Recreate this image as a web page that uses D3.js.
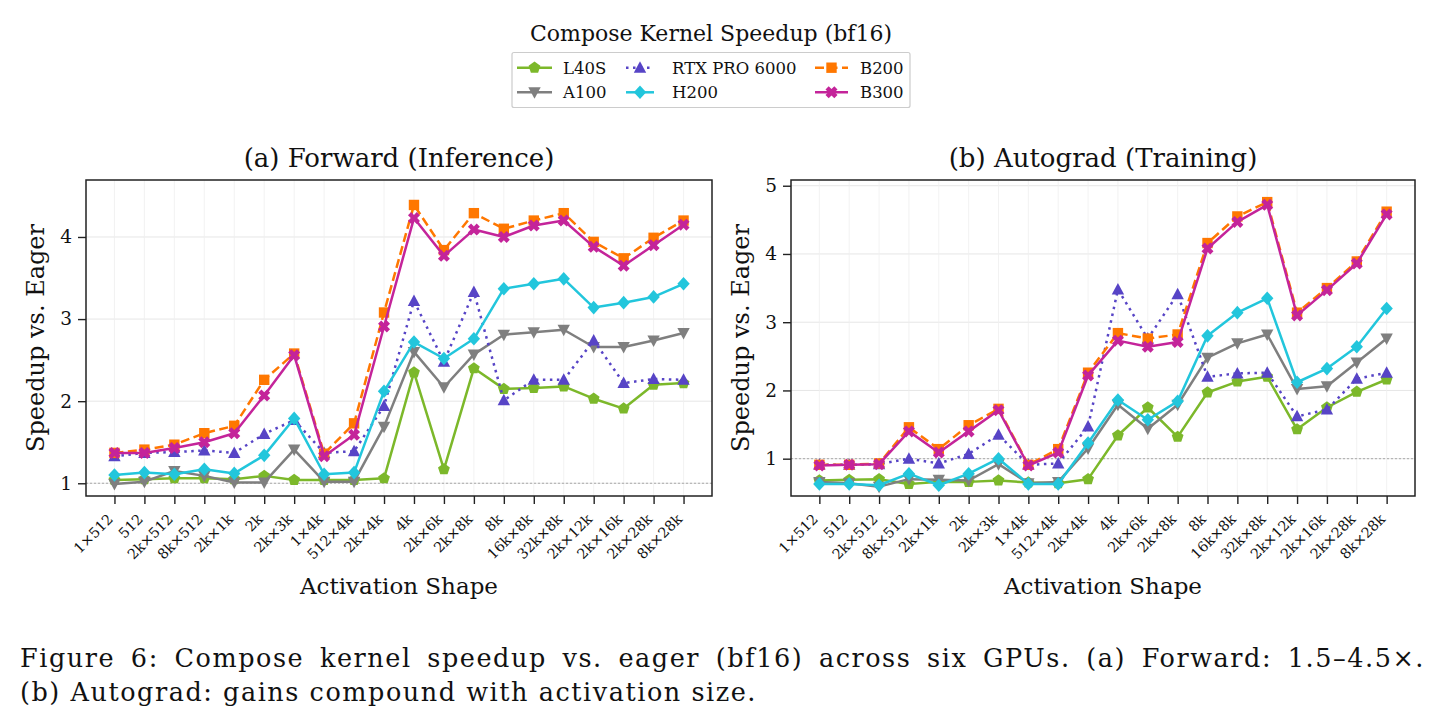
<!DOCTYPE html>
<html>
<head>
<meta charset="utf-8">
<script src="https://cdn.jsdelivr.net/npm/d3@7"></script>
<style>
  body { margin: 0; background: #fff; }
  svg { display: block; }
  text { font-family: "DejaVu Serif", serif; fill: #111; }
</style>
</head>
<body>
<div id="chart"></div>
<script>
// categories (activation shapes)
const shapes = ["1×512", "512", "2k×512", "8k×512", "2k×1k", "2k", "2k×3k", "1×4k", "512×4k", "2k×4k",
  "4k", "2k×6k", "2k×8k", "8k", "16k×8k", "32k×8k", "2k×12k", "2k×16k", "2k×28k", "8k×28k"];

const gpus = ["L40S", "A100", "RTX PRO 6000", "H200", "B200", "B300"];

// (a) forward speedups
const fwdL40S = [1.04, 1.05, 1.06, 1.06, 1.05, 1.09, 1.04, 1.04, 1.04, 1.06, 2.35, 1.17, 2.40, 2.15, 2.16, 2.18, 2.03, 1.91, 2.20, 2.22];
const fwdA100 = [0.99, 1.02, 1.15, 1.09, 1.01, 1.01, 1.41, 1.02, 1.02, 1.69, 2.60, 2.17, 2.57, 2.81, 2.84, 2.87, 2.66, 2.66, 2.74, 2.83];
const fwdRTX  = [1.33, 1.37, 1.38, 1.40, 1.37, 1.60, 1.77, 1.37, 1.39, 1.94, 3.22, 2.48, 3.33, 2.01, 2.26, 2.26, 2.74, 2.22, 2.27, 2.26];
const fwdH200 = [1.10, 1.13, 1.11, 1.17, 1.12, 1.34, 1.79, 1.11, 1.13, 2.12, 2.72, 2.52, 2.76, 3.37, 3.43, 3.49, 3.14, 3.20, 3.27, 3.43];
const fwdB200 = [1.37, 1.41, 1.47, 1.61, 1.70, 2.26, 2.58, 1.36, 1.73, 3.08, 4.39, 3.84, 4.29, 4.10, 4.20, 4.29, 3.94, 3.74, 3.99, 4.20];
const fwdB300 = [1.37, 1.37, 1.43, 1.50, 1.61, 2.07, 2.56, 1.33, 1.59, 2.91, 4.23, 3.77, 4.09, 4.00, 4.14, 4.20, 3.88, 3.65, 3.90, 4.15];

// (b) autograd speedups
const bwdL40S = [0.68, 0.69, 0.70, 0.63, 0.66, 0.66, 0.68, 0.65, 0.64, 0.70, 1.34, 1.75, 1.32, 1.97, 2.13, 2.20, 1.43, 1.75, 1.98, 2.16];
const bwdA100 = [0.66, 0.64, 0.59, 0.70, 0.69, 0.68, 0.92, 0.64, 0.66, 1.15, 1.79, 1.44, 1.79, 2.48, 2.69, 2.82, 2.02, 2.06, 2.41, 2.76];
const bwdRTX  = [0.91, 0.91, 0.92, 1.00, 0.93, 1.07, 1.35, 0.91, 0.93, 1.47, 3.48, 2.76, 3.41, 2.20, 2.25, 2.26, 1.62, 1.72, 2.17, 2.26];
const bwdH200 = [0.63, 0.63, 0.61, 0.78, 0.61, 0.78, 1.00, 0.63, 0.63, 1.23, 1.86, 1.57, 1.84, 2.80, 3.14, 3.35, 2.12, 2.32, 2.64, 3.20];
const bwdB200 = [0.91, 0.91, 0.93, 1.46, 1.14, 1.49, 1.73, 0.91, 1.14, 2.26, 2.84, 2.76, 2.82, 4.16, 4.55, 4.76, 3.14, 3.50, 3.89, 4.62];
const bwdB300 = [0.90, 0.91, 0.92, 1.40, 1.09, 1.40, 1.71, 0.90, 1.09, 2.22, 2.73, 2.64, 2.71, 4.08, 4.47, 4.72, 3.10, 3.47, 3.86, 4.58];

const fwdTicks = [1, 2, 3, 4];
const bwdTicks = [1, 2, 3, 4, 5];

const W = 1445, H = 726;
const svg = d3.select("#chart").append("svg").attr("width", W).attr("height", H);

// series styling
const styles = {
  "L40S":         { color: "#7cb82a", dash: null,  marker: "pentagon" },
  "A100":         { color: "#7f7f7f", dash: null,  marker: "tridown" },
  "RTX PRO 6000": { color: "#5744c6", dash: "2.5,4.5", marker: "triup" },
  "H200":         { color: "#22c6dc", dash: null,  marker: "diamond" },
  "B200":         { color: "#ff7700", dash: "9,4.5", marker: "square" },
  "B300":         { color: "#c4249a", dash: null,  marker: "xcross" }
};

function polyPath(pts) {
  return "M" + pts.map(p => p[0].toFixed(2) + "," + p[1].toFixed(2)).join("L") + "Z";
}
function markerPath(kind) {
  if (kind === "pentagon") {
    const r = 6.2;
    return polyPath(d3.range(5).map(i => {
      const a = -Math.PI / 2 + i * 2 * Math.PI / 5;
      return [r * Math.cos(a), r * Math.sin(a)];
    }));
  }
  if (kind === "tridown") return polyPath([[-6.2, -5], [6.2, -5], [0, 6.5]]);
  if (kind === "triup") return polyPath([[-6.2, 5], [6.2, 5], [0, -6.5]]);
  if (kind === "diamond") return polyPath([[0, -6.8], [6.2, 0], [0, 6.8], [-6.2, 0]]);
  if (kind === "square") return polyPath([[-5.2, -5.2], [5.2, -5.2], [5.2, 5.2], [-5.2, 5.2]]);
  // filled X
  const a = 3.2, b = 6;
  return polyPath([[-b + a, -b], [0, -a], [b - a, -b], [b, -b + a], [a, 0], [b, b - a], [b - a, b],
    [0, a], [-b + a, b], [-b, b - a], [-a, 0], [-b, -b + a]]);
}

function drawPanel(cfg) {
  const { left, right, top, bottom, yDomain, ticks, series, title } = cfg;
  const x = d3.scaleLinear().domain([-0.95, shapes.length - 1 + 0.95]).range([left, right]);
  const y = d3.scaleLinear().domain(yDomain).range([bottom, top]);
  const g = svg.append("g");

  // grid
  g.selectAll(".gy").data(ticks).enter().append("line")
    .attr("x1", left).attr("x2", right)
    .attr("y1", d => y(d)).attr("y2", d => y(d))
    .attr("stroke", "#e6e6e6").attr("stroke-width", 1);
  g.selectAll(".gx").data(shapes).enter().append("line")
    .attr("x1", (d, i) => x(i)).attr("x2", (d, i) => x(i))
    .attr("y1", top).attr("y2", bottom)
    .attr("stroke", "#efefef").attr("stroke-width", 0.8);

  // reference line at 1
  g.append("line")
    .attr("x1", left).attr("x2", right)
    .attr("y1", y(1)).attr("y2", y(1))
    .attr("stroke", "#aaa").attr("stroke-width", 1).attr("stroke-dasharray", "2,2");

  // series
  gpus.forEach((name, k) => {
    const st = styles[name];
    const vals = series[k];
    const line = d3.line().x((d, i) => x(i)).y(d => y(d));
    g.append("path").datum(vals)
      .attr("d", line)
      .attr("fill", "none")
      .attr("stroke", st.color)
      .attr("stroke-width", 2.5)
      .attr("stroke-dasharray", st.dash)
      .attr("stroke-linejoin", "round");
    g.selectAll(null).data(vals).enter().append("path")
      .attr("d", markerPath(st.marker))
      .attr("transform", (d, i) => `translate(${x(i)},${y(d)})`)
      .attr("fill", st.color);
  });

  // frame
  g.append("rect").attr("x", left).attr("y", top)
    .attr("width", right - left).attr("height", bottom - top)
    .attr("fill", "none").attr("stroke", "#222").attr("stroke-width", 1.5);

  // y axis
  const ya = g.append("g").attr("transform", `translate(${left},0)`)
    .call(d3.axisLeft(y).tickValues(ticks).tickSize(8).tickPadding(6).tickFormat(d3.format("d")));
  ya.select(".domain").remove();
  ya.selectAll("line").attr("stroke", "#222").attr("stroke-width", 1.4);
  ya.selectAll("text").attr("font-size", 18.5).attr("font-family", "DejaVu Serif").attr("fill", "#111");

  // x axis
  const xa = g.append("g").attr("transform", `translate(0,${bottom})`)
    .call(d3.axisBottom(x).tickValues(d3.range(shapes.length)).tickSize(8).tickFormat(i => shapes[i]));
  xa.select(".domain").remove();
  xa.selectAll("line").attr("stroke", "#222").attr("stroke-width", 1.4);
  xa.selectAll("text")
    .attr("font-size", 14.3).attr("font-family", "DejaVu Serif").attr("fill", "#111")
    .attr("text-anchor", "end")
    .attr("dy", null).attr("y", 0)
    .attr("transform", "translate(-1,24) rotate(-45)");

  // titles
  const cx = (left + right) / 2;
  g.append("text").attr("x", cx).attr("y", top - 13).attr("text-anchor", "middle")
    .attr("font-size", 26).text(title);
  g.append("text").attr("x", cx).attr("y", 594).attr("text-anchor", "middle")
    .attr("font-size", 23).text("Activation Shape");
  g.append("text").attr("transform", `translate(${left - 42},${(top + bottom) / 2}) rotate(-90)`)
    .attr("text-anchor", "middle").attr("font-size", 24).text("Speedup vs. Eager");
}

drawPanel({
  left: 86, right: 712, top: 180, bottom: 496,
  yDomain: [0.845, 4.694], ticks: fwdTicks,
  series: [fwdL40S, fwdA100, fwdRTX, fwdH200, fwdB200, fwdB300],
  title: "(a) Forward (Inference)"
});
drawPanel({
  left: 791, right: 1415, top: 180, bottom: 496,
  yDomain: [0.453, 5.084], ticks: bwdTicks,
  series: [bwdL40S, bwdA100, bwdRTX, bwdH200, bwdB200, bwdB300],
  title: "(b) Autograd (Training)"
});

// suptitle + legend
svg.append("text").attr("x", 711).attr("y", 41).attr("text-anchor", "middle")
  .attr("font-size", 22).text("Compose Kernel Speedup (bf16)");
svg.append("rect").attr("x", 512).attr("y", 52.5).attr("width", 398).attr("height", 55)
  .attr("fill", "#fff").attr("stroke", "#ccc").attr("stroke-width", 1.2).attr("rx", 2);

const legendPos = [
  { x1: 517, x2: 552, tx: 563, y: 67.7 },
  { x1: 517, x2: 552, tx: 563, y: 92.3 },
  { x1: 626, x2: 654, tx: 672, y: 67.7 },
  { x1: 626, x2: 654, tx: 672, y: 92.3 },
  { x1: 815, x2: 848, tx: 860, y: 67.7 },
  { x1: 815, x2: 848, tx: 860, y: 92.3 }
];
const lg = svg.append("g");
gpus.forEach((name, k) => {
  const st = styles[name], p = legendPos[k];
  lg.append("line").attr("x1", p.x1).attr("x2", p.x2).attr("y1", p.y).attr("y2", p.y)
    .attr("stroke", st.color).attr("stroke-width", 2.5).attr("stroke-dasharray", st.dash);
  lg.append("path").attr("d", markerPath(st.marker))
    .attr("transform", `translate(${(p.x1 + p.x2) / 2},${p.y})`).attr("fill", st.color);
  lg.append("text").attr("x", p.tx).attr("y", p.y + 6).attr("font-size", 16.5).text(name);
});

// caption: spread letters so line 2 matches its width, then justify line 1 with word spacing
const cap = svg.append("g");
const line2 = cap.append("text").attr("x", 20).attr("y", 701)
  .attr("font-size", 25.5)
  .text("(b) Autograd: gains compound with activation size.");
const n2 = line2.node().getComputedTextLength();
const ls = (757 - 20 - n2) / line2.text().length;
line2.style("letter-spacing", ls + "px");
const line1 = cap.append("text").attr("x", 20).attr("y", 667)
  .attr("font-size", 25.5).style("letter-spacing", ls + "px")
  .text("Figure 6: Compose kernel speedup vs. eager (bf16) across six GPUs. (a) Forward: 1.5–4.5×.");
const n1 = line1.node().getComputedTextLength();
const nSpaces = (line1.text().match(/ /g) || []).length;
line1.style("word-spacing", ((1425 - 20 - n1) / nSpaces) + "px");
</script>
</body>
</html>
